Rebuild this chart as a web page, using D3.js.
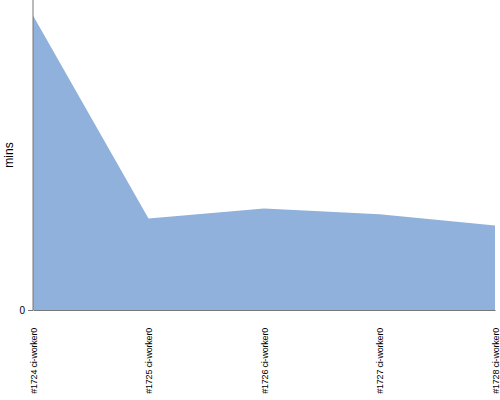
<!DOCTYPE html>
<html>
<head>
<meta charset="utf-8">
<script src="https://cdn.jsdelivr.net/npm/d3@7"></script>
<style>
  body { margin: 0; background: white; }
  text { font-family: "Liberation Sans", Arial, sans-serif; }
</style>
</head>
<body>
<div id="chart-area"></div>
<script>
// data
const builds = ["#1724 ci-worker0", "#1725 ci-worker0", "#1726 ci-worker0", "#1727 ci-worker0", "#1728 ci-worker0"];
const mins = [20.9, 6.5, 7.2, 6.8, 6.0];
const yTicks = [0];

const width = 500;
const height = 400;
const margin = {left: 33, right: 5, top: 0, bottom: 90};
const innerW = width - margin.left - margin.right;
const innerH = height - margin.top - margin.bottom;

const svg = d3.select("#chart-area")
	.append("svg")
	.attr("width", width)
	.attr("height", height);

const g = svg.append("g")
	.attr("transform", "translate(" + margin.left + "," + margin.top + ")");

// scales
const x = d3.scalePoint()
	.domain(builds)
	.range([0, innerW]);

const y = d3.scaleLinear()
	.domain([0, 22])
	.range([innerH, 0]);

// area
const area = d3.area()
	.x((d, i) => x(builds[i]))
	.y0(innerH)
	.y1(d => y(d));

g.append("path")
	.datum(mins)
	.attr("d", area)
	.attr("fill", "#8fb1db");

// axes
const xAxisGroup = g.append("g")
	.attr("class", "x axis")
	.attr("transform", "translate(0," + innerH + ")")
	.call(d3.axisBottom(x).tickSize(0).tickSizeOuter(0).tickPadding(0));

xAxisGroup.selectAll("text")
	.attr("transform", "rotate(-90)")
	.attr("text-anchor", "end")
	.attr("x", -18)
	.attr("y", 0)
	.attr("dy", "0.35em")
	.attr("font-size", "9px")
	.attr("letter-spacing", "-0.2px")
	.attr("fill", "black");

const yAxisGroup = g.append("g")
	.attr("class", "y axis")
	.call(d3.axisLeft(y).tickValues(yTicks).tickSize(5).tickSizeOuter(0));

yAxisGroup.select(".domain").attr("d", "M0," + innerH + "V0");

yAxisGroup.selectAll("text")
	.attr("font-size", "10px")
	.attr("fill", "black");

g.selectAll(".axis path, .axis line")
	.attr("stroke", "#777");

// y label
g.append("text")
	.attr("x", -155)
	.attr("y", -20)
	.attr("transform", "rotate(-90)")
	.attr("text-anchor", "middle")
	.attr("font-size", "12px")
	.text("mins");
</script>
</body>
</html>
